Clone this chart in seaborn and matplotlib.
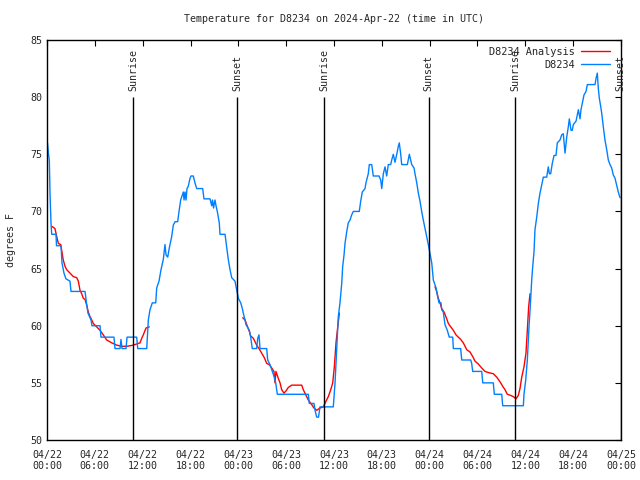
import matplotlib
matplotlib.use("Agg")
import matplotlib.pyplot as plt
import pandas as pd
import seaborn as sns

# hours since 2024-04-22 00:00 UTC
obs_hours = [0.06, 0.19, 0.29, 0.38, 0.50, 0.59, 1.13, 1.19, 1.76, 1.88, 2.13, 2.38, 2.88, 3.01,
             4.77, 4.95, 5.14, 5.52, 5.64, 6.65, 6.77, 8.40, 8.53, 9.16, 9.28, 9.41, 9.91, 10.04,
             11.25, 11.38, 12.51, 12.71, 12.92, 13.21, 13.64, 13.76, 14.05, 14.30, 14.59, 14.80,
             14.93, 15.14, 15.34, 15.64, 15.84, 16.06, 16.39, 16.56, 16.77, 17.10, 17.19, 17.31,
             17.44, 17.56, 17.72, 17.94, 18.06, 18.35, 18.56, 18.78, 19.53, 19.69, 20.45, 20.66,
             20.76, 20.89, 21.07, 21.20, 21.36, 21.61, 21.70, 22.33, 22.54, 22.74, 22.96, 23.17,
             23.58, 23.80, 24.00, 24.30, 24.50, 24.62, 24.84, 24.96, 25.38, 25.55, 25.75, 26.30,
             26.43, 26.59, 26.72, 27.56, 27.68, 27.97, 28.26, 28.51, 28.69, 28.89, 32.78, 32.90,
             33.49, 33.62, 33.83, 34.06, 34.24, 35.91, 36.13, 36.34, 36.54, 36.75, 36.97, 37.09,
             37.26, 37.38, 37.59, 37.79, 38.01, 38.22, 38.42, 39.17, 39.35, 39.55, 39.89, 40.01,
             40.30, 40.43, 40.73, 40.93, 41.65, 41.86, 41.99, 42.19, 42.40, 42.61, 42.81, 43.11,
             43.24, 43.44, 43.65, 43.87, 44.07, 44.19, 44.37, 44.49, 45.20, 45.45, 45.75, 46.04,
             46.16, 46.38, 46.58, 46.79, 47.00, 47.20, 47.42, 47.63, 47.83, 48.04, 48.26, 48.46,
             48.80, 48.96, 49.17, 49.42, 49.51, 49.71, 49.92, 50.21, 50.46, 50.89, 50.97, 51.89,
             52.02, 53.15, 53.27, 53.40, 54.53, 54.66, 55.98, 56.11, 57.04, 57.16, 59.75, 59.83,
             60.05, 60.25, 60.46, 60.67, 60.80, 60.93, 61.09, 61.21, 61.43, 61.63, 61.84, 62.05,
             62.26, 62.68, 62.88, 63.01, 63.18, 63.38, 63.60, 63.85, 64.01, 64.35, 64.56, 64.76,
             64.98, 65.19, 65.39, 65.52, 65.73, 65.89, 66.02, 66.36, 66.65, 66.86, 66.98, 67.15,
             67.36, 67.61, 67.78, 68.74, 68.87, 69.03, 69.15, 69.28, 69.45, 69.58, 69.78, 69.99,
             70.21, 70.41, 70.62, 70.83, 71.03, 71.25, 71.46, 71.66, 71.88]
obs_temps = [76.0, 75.0, 74.5, 71.5, 69.0, 68.0, 68.0, 67.0, 67.0, 65.5, 64.6, 64.1, 63.9, 63.0,
             63.0, 62.0, 61.1, 60.5, 60.0, 60.0, 59.0, 59.0, 58.0, 58.0, 58.8, 58.0, 58.0, 59.0,
             59.0, 58.0, 58.0, 60.5, 61.4, 62.0, 62.0, 63.3, 63.9, 64.9, 65.8, 67.1,
             66.2, 66.0, 66.8, 67.8, 68.8, 69.1, 69.1, 70.0, 71.0, 71.7, 71.0, 71.7,
             71.0, 72.0, 72.2, 72.9, 73.1, 73.1, 72.5, 72.0, 72.0, 71.1, 71.1, 70.5,
             71.0, 70.3, 71.0, 70.5, 70.0, 69.0, 68.0, 68.0, 66.9, 65.8, 64.9, 64.2,
             63.9, 63.1, 62.4, 62.0, 61.5, 61.1, 60.5, 60.1, 59.6, 59.0, 58.0, 58.0,
             58.9, 59.2, 58.0, 58.0, 57.0, 56.6, 56.0, 55.5, 55.0, 54.0, 54.0, 53.2,
             53.2, 52.6, 52.0, 52.0, 52.9, 52.9, 55.0, 57.9, 60.8, 62.0, 63.7, 65.2,
             66.2, 67.2, 68.2, 69.0, 69.25, 69.7, 70.0, 70.0, 70.9, 71.7, 72.0, 72.5,
             73.3, 74.1, 74.1, 73.1, 73.1, 72.75, 72.0, 73.3, 73.9, 73.1, 74.1, 74.1,
             74.5, 75.0, 74.3, 75.0, 75.7, 76.0, 75.0, 74.1, 74.1, 75.0, 74.1, 73.8,
             73.3, 72.5, 71.6, 70.9, 70.0, 69.25, 68.5, 67.8, 67.1, 66.3, 65.5, 64.0,
             63.3, 62.7, 62.0, 62.0, 61.4, 61.2, 60.1, 59.6, 59.0, 59.0, 58.0, 58.0,
             57.0, 57.0, 56.7, 56.0, 56.0, 55.0, 55.0, 54.0, 54.0, 53.0, 53.0, 54.0,
             55.25, 57.0, 59.9, 62.3, 64.0, 65.2, 66.5, 68.4, 69.5, 70.7, 71.6, 72.3,
             73.0, 73.0, 73.9, 73.3, 73.3, 74.2, 74.9, 74.9, 76.0, 76.25, 76.7, 76.8,
             75.1, 76.5, 77.4, 78.1, 77.1, 77.1, 77.6, 77.9, 78.9, 78.1, 78.9, 79.5,
             80.2, 80.5, 81.1, 81.1, 81.65, 82.1, 80.8, 79.9, 79.2, 78.6, 77.4, 76.25,
             75.4, 74.5, 74.1, 73.8, 73.2, 72.9, 72.3, 71.7, 71.2]

ana1_hours = [0.59, 1.00, 1.22, 1.42, 1.72, 1.84, 2.04, 2.26, 2.47, 2.89, 3.30, 3.73, 3.93, 4.14,
              4.35, 4.55, 4.77, 4.98, 5.18, 5.39, 5.61, 5.81, 6.23, 6.65, 7.06, 7.49, 8.12, 8.74,
              9.37, 10.04, 10.83, 11.67, 11.88, 12.08, 12.42, 12.83]
ana1_temps = [68.7, 68.5, 67.8, 67.2, 67.1, 66.6, 65.75, 65.2, 64.9, 64.6, 64.3, 64.2, 63.9, 63.1,
              62.8, 62.4, 62.3, 61.8, 61.2, 60.8, 60.5, 60.2, 59.9, 59.6, 59.2, 58.75, 58.5, 58.3,
              58.2, 58.2, 58.3, 58.5, 58.9, 59.2, 59.8, 59.9]
ana2_hours = [24.55, 24.84, 25.05, 25.38, 25.55, 25.88, 26.09, 26.30, 26.59, 26.93, 27.26, 27.56,
              27.88, 28.19, 28.47, 28.60, 28.72, 29.01, 29.23, 29.44, 29.73, 29.98, 30.27, 30.69,
              31.95, 32.15, 32.49, 32.78, 33.20, 33.49, 33.83, 34.24, 34.66, 35.00, 35.29, 35.59,
              35.84, 36.04, 36.25, 36.47, 36.67]
ana2_temps = [60.7, 60.5, 60.1, 59.5, 59.1, 58.9, 58.6, 58.3, 58.0, 57.6, 57.2, 56.7,
              56.6, 56.3, 56.0, 55.0, 56.0, 55.4, 55.0, 54.4, 54.1, 54.3, 54.6, 54.8,
              54.8, 54.4, 53.9, 53.5, 53.1, 52.8, 52.6, 52.8, 52.9, 53.4, 53.8, 54.4,
              55.0, 56.4, 58.5, 59.9, 61.1]
ana3_hours = [48.67, 48.88, 49.08, 49.30, 49.51, 49.80, 50.14, 50.34, 50.64, 50.97, 51.30, 51.59,
              51.89, 52.22, 52.65, 53.06, 53.40, 53.69, 54.10, 54.53, 54.94, 55.36, 55.98, 56.41,
              56.82, 57.16, 57.45, 57.74, 58.16, 58.49, 58.83, 59.12, 59.33, 59.55, 59.83, 60.08,
              60.25, 60.42, 60.59]
ana3_temps = [63.4, 63.0, 62.4, 62.0, 61.5, 61.2, 60.6, 60.2, 59.9, 59.6, 59.2, 59.0,
              58.8, 58.5, 57.9, 57.7, 57.3, 56.9, 56.65, 56.3, 56.0, 55.9, 55.8, 55.5,
              55.1, 54.7, 54.4, 54.0, 53.9, 53.8, 53.6, 53.9, 54.5, 55.5, 56.4, 57.6,
              59.6, 61.7, 62.8]

sun_hours = [10.8, 23.85, 34.75, 47.9, 58.75, 71.95]
sun_labels = ["Sunrise", "Sunset", "Sunrise", "Sunset", "Sunrise", "Sunset"]

tick_hours = list(range(0, 73, 6))
tick_labels = ["04/22\n00:00", "04/22\n06:00", "04/22\n12:00", "04/22\n18:00",
               "04/23\n00:00", "04/23\n06:00", "04/23\n12:00", "04/23\n18:00",
               "04/24\n00:00", "04/24\n06:00", "04/24\n12:00", "04/24\n18:00",
               "04/25\n00:00"]

frames = []
for seg, (h, t) in enumerate([(ana1_hours, ana1_temps), (ana2_hours, ana2_temps),
                              (ana3_hours, ana3_temps)]):
    frames.append(pd.DataFrame({"hour": h, "temp": t, "series": "D8234 Analysis", "seg": seg}))
frames.append(pd.DataFrame({"hour": obs_hours, "temp": obs_temps, "series": "D8234", "seg": 10}))
df = pd.concat(frames, ignore_index=True)

sns.set_style("white")
plt.rcParams["font.family"] = ["DejaVu Sans Mono", "DejaVu Sans"]
plt.rcParams["font.size"] = 7.2

fig = plt.figure(figsize=(6.4, 4.8), dpi=100)
ax = fig.add_axes([47 / 640, 1 - 440 / 480, 574 / 640, 400 / 480])

sns.lineplot(data=df, x="hour", y="temp", hue="series", units="seg", estimator=None,
             sort=False, hue_order=["D8234 Analysis", "D8234"],
             palette={"D8234 Analysis": "#ff0000", "D8234": "#0080ff"},
             linewidth=1.0, ax=ax)

ax.vlines(sun_hours, 50, 80, colors="black", linewidth=1.0)
for h, lab in zip(sun_hours, sun_labels):
    ax.text(h, 80.5, lab, rotation=90, ha="center", va="bottom", fontsize=7.2, clip_on=False)

ax.set_xlim(0, 72)
ax.set_ylim(50, 85)
ax.set_xticks(tick_hours)
ax.set_xticklabels(tick_labels)
ax.set_yticks(range(50, 86, 5))
ax.tick_params(direction="in", length=4, width=0.8, top=True, right=True, labelsize=7.2,
               color="black")
ax.tick_params(axis="x", pad=7)
for s in ax.spines.values():
    s.set_color("black")
    s.set_linewidth(1.0)

ax.set_xlabel("")
ax.set_ylabel("degrees F", fontsize=7.2, labelpad=10)
ax.set_title("Temperature for D8234 on 2024-Apr-22 (time in UTC)", fontsize=7.2, pad=13)

leg = ax.legend(loc="upper right", frameon=False, markerfirst=False, handlelength=2.8,
                fontsize=7.4, borderaxespad=0.25, labelspacing=0.3, handletextpad=0.6,
                bbox_to_anchor=(0.992, 1.0))

fig.savefig("out.png", dpi=100)
